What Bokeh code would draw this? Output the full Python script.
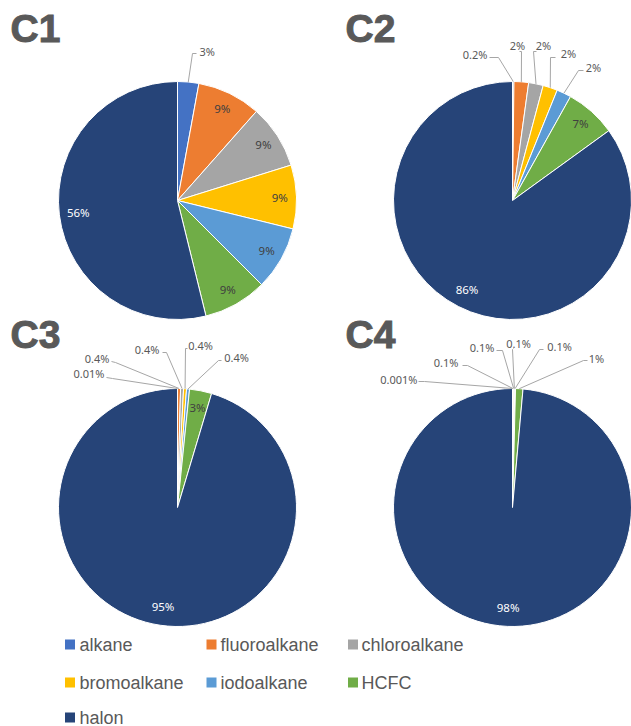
import math
from bokeh.plotting import figure
from bokeh.models import ColumnDataSource, Range1d
from bokeh.core.properties import value
from bokeh.embed import file_html
from bokeh.resources import INLINE

# ---- data -------------------------------------------------------------
categories = ["alkane", "fluoroalkane", "chloroalkane", "bromoalkane",
              "iodoalkane", "HCFC", "halon"]
colors = ["#4472C4", "#ED7D31", "#A5A5A5", "#FFC000", "#5B9BD5", "#70AD47", "#264478"]

c1_pct = [3, 9, 9, 9, 9, 9, 56]
c2_pct = [0.2, 2, 2, 2, 2, 7, 86]
c3_pct = [0.01, 0.4, 0.4, 0.4, 0.4, 3, 95]
c4_pct = [0.001, 0.1, 0.1, 0.1, 0.1, 1, 98]

# ---- layout -----------------------------------------------------------
W, H = 631, 726
R = 119
LABEL_DARK = "#404040"
LABEL_GRAY = "#595959"
LEADER = "#A6A6A6"


def Y(py):
    return H - py


# each chart: title, title position, pie centre, values, outside labels
# outside label: index -> (text x, text y, align, leader tail points)
charts = [
    dict(title="C1", tpos=(10, 28), center=(177, 200), pct=c1_pct,
         outside={0: (199, 51, "left", [(196, 53), (192, 53)])}),
    dict(title="C2", tpos=(345, 28), center=(512, 200), pct=c2_pct,
         outside={
             0: (487, 54, "right", [(489, 57), (498, 57)]),
             1: (517, 45, "center", [(519, 51), (521, 51)]),
             2: (543, 45, "center", [(536, 51), (533, 51)]),
             3: (568, 53, "center", [(555, 57), (550, 57)]),
             4: (593, 67, "center", [(583, 70), (578, 70)]),
         }),
    dict(title="C3", tpos=(10, 334), center=(177, 507), pct=c3_pct,
         outside={
             0: (104, 373, "right", [(106, 377), (112, 378)]),
             1: (109, 358, "right", [(111, 361), (115, 362)]),
             2: (159, 349, "right", [(162, 352), (166, 352)]),
             3: (200, 345, "center", [(187, 348), (185, 348)]),
             4: (236, 357, "center", [(221, 360), (218, 360)]),
         }),
    dict(title="C4", tpos=(345, 334), center=(512, 507), pct=c4_pct,
         outside={
             0: (417, 379, "right", [(418, 381), (424, 381)]),
             1: (458, 362, "right", [(462, 365), (467, 365)]),
             2: (494, 347, "right", [(496, 350), (502, 350)]),
             3: (518, 343, "center", [(513, 348), (512, 349)]),
             4: (559, 346, "center", [(543, 349), (539, 349)]),
             5: (596, 358, "center", [(587, 360), (583, 360)]),
         }),
]

p = figure(width=W, height=H, x_range=Range1d(0, W), y_range=Range1d(0, H),
           x_axis_type=None, y_axis_type=None, toolbar_location=None,
           output_backend="svg", min_border=0)
p.grid.visible = False
p.outline_line_color = None
p.background_fill_color = "white"
p.border_fill_color = "white"


def fmt(v):
    return f"{v:g}%"


for ch in charts:
    cx, cy = ch["center"]
    vals = ch["pct"]
    total = sum(vals)
    starts, ends, mids = [], [], []
    cum = 0.0
    for v in vals:
        f0 = cum / total
        cum += v
        f1 = cum / total
        starts.append(math.pi / 2 - 2 * math.pi * f0)
        ends.append(math.pi / 2 - 2 * math.pi * f1)
        mids.append(2 * math.pi * (f0 + f1) / 2)  # clockwise from top

    src = ColumnDataSource(dict(start=starts, end=ends, color=colors, cat=categories))
    p.wedge(x=cx, y=Y(cy), radius=R, start_angle="start", end_angle="end",
            direction="clock", fill_color="color", line_color="white",
            line_width=1, source=src)

    # inside labels
    in_x, in_y, in_t, in_c = [], [], [], []
    for i, v in enumerate(vals):
        if i in ch["outside"]:
            continue
        k = 0.84 if i == 6 else 0.86
        in_x.append(cx + k * R * math.sin(mids[i]))
        in_y.append(Y(cy - k * R * math.cos(mids[i])))
        in_t.append(fmt(v))
        in_c.append("white" if i == 6 else LABEL_DARK)
    p.text(x=in_x, y=in_y, text=in_t, text_color=in_c,
           text_font=value("Noto Sans"), text_font_size="11.5px",
           text_align="center", text_baseline="middle")

    # outside labels with leader lines
    xs, ys = [], []
    for i, (tx, ty, al, tail) in ch["outside"].items():
        ax = cx + R * math.sin(mids[i])
        ay = cy - R * math.cos(mids[i])
        pts = tail + [(ax, ay)]
        xs.append([q[0] for q in pts])
        ys.append([Y(q[1]) for q in pts])
        p.text(x=[tx], y=[Y(ty)], text=[fmt(vals[i])], text_color=LABEL_GRAY,
               text_font=value("Noto Sans"), text_font_size="11px",
               text_align=al, text_baseline="middle")
    if xs:
        p.multi_line(xs=xs, ys=ys, line_color=LEADER, line_width=1)

    # panel title
    tx, ty = ch["tpos"]
    p.text(x=[tx], y=[Y(ty)], text=[ch["title"]], text_color="#595959",
           text_outline_color="#595959",
           text_font=value("Liberation Sans"), text_font_style="bold",
           text_font_size="39px", text_align="left", text_baseline="middle")

# ---- legend -----------------------------------------------------------
col_sq = [69.5, 211, 352.5]
col_tx = [79, 220, 361]
row_y = [644, 682, 717]
lg_sx, lg_sy, lg_tx, lg_ty = [], [], [], []
for i, cat in enumerate(categories):
    r, c = divmod(i, 3)
    lg_sx.append(col_sq[c])
    lg_sy.append(Y(row_y[r]))
    lg_tx.append(col_tx[c])
    lg_ty.append(Y(row_y[r]))
p.scatter(x=lg_sx, y=lg_sy, marker="square", size=10, fill_color=colors,
          line_color=None)
p.text(x=lg_tx, y=lg_ty, text=categories, text_color="#595959",
       text_font=value("Liberation Sans"), text_font_size="18px",
       text_align="left", text_baseline="middle")

open("out.html", "w").write(file_html(p, INLINE))
